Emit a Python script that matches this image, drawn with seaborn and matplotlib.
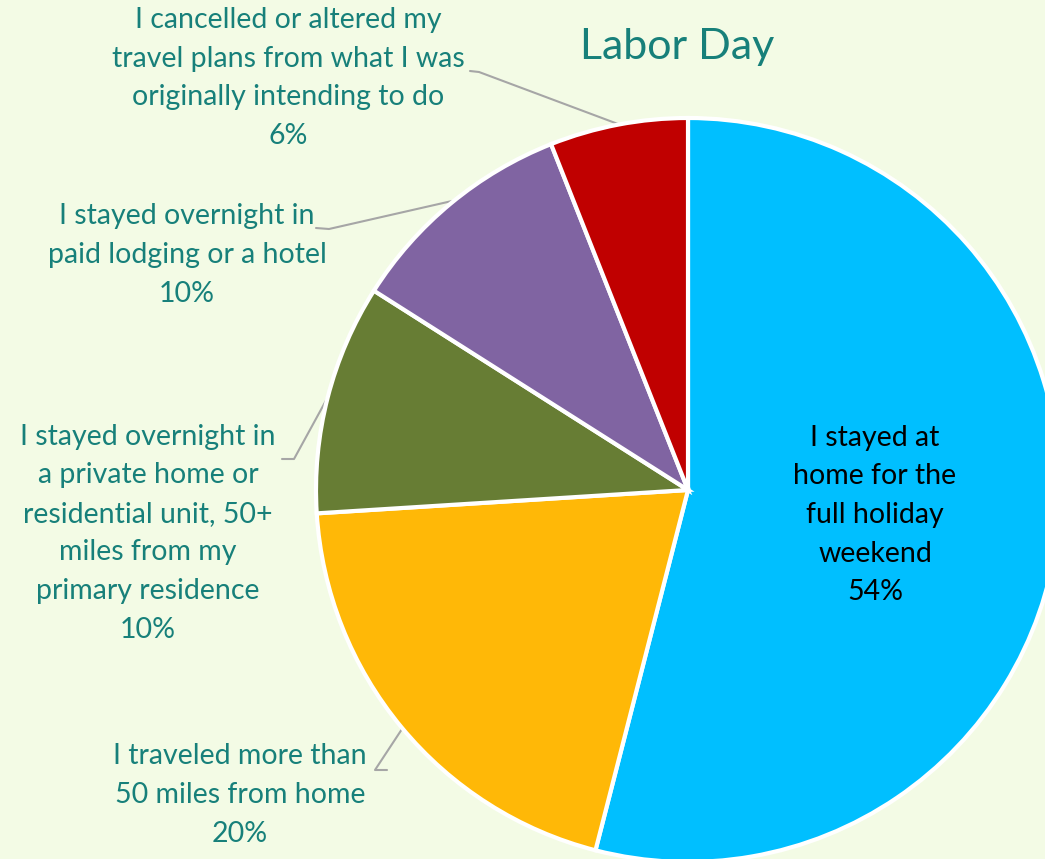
import matplotlib
matplotlib.use("Agg")
import matplotlib.pyplot as plt
import seaborn as sns

categories = [
    "I stayed at\nhome for the\nfull holiday\nweekend",
    "I traveled more than\n50 miles from home",
    "I stayed overnight in\na private home or\nresidential unit, 50+\nmiles from my\nprimary residence",
    "I stayed overnight in\npaid lodging or a hotel",
    "I cancelled or altered my\ntravel plans from what I was\noriginally intending to do",
]
values = [54, 20, 10, 10, 6]
colors = ["#00BFFF", "#FFB807", "#677D34", "#8064A2", "#C00000"]
title = "Labor Day"

sns.set_theme(style="white")
plt.rcParams["font.family"] = ["Lato", "DejaVu Sans"]

BG = "#F3FBE5"
TEAL = "#17807A"

W, H = 1045, 859
fig = plt.figure(figsize=(W / 100, H / 100), dpi=100, facecolor=BG)
ax = fig.add_axes([0, 0, 1, 1])
ax.set_facecolor(BG)

cx, cy, r = 688, H - 490, 372
ax.pie(values, colors=colors, startangle=90, counterclock=False,
       center=(cx, cy), radius=r, frame=True,
       wedgeprops=dict(edgecolor="white", linewidth=3))
ax.set_xlim(0, W)
ax.set_ylim(0, H)
ax.set_aspect("equal")
ax.axis("off")

fs = 20.5
ls = 1.6
# label layout (pixel coords from top)
label_pos = [
    (875, 515, "black"),
    (240, 795, TEAL),
    (148, 533, TEAL),
    (187, 255, TEAL),
    (288, 78, TEAL),
]
for cat, v, (x, y, c) in zip(categories, values, label_pos):
    ax.text(x, H - y, f"{cat}\n{v}%", ha="center", va="center",
            fontsize=fs, color=c, linespacing=ls)

leaders = [
    [(387, 770), (375, 770), (402, 729)],
    [(282, 459), (294, 459), (329, 395)],
    [(316, 228), (329, 229), (452, 201)],
    [(470, 71), (479, 72), (618, 124)],
]
for pts in leaders:
    xs = [p[0] for p in pts]
    ys = [H - p[1] for p in pts]
    ax.plot(xs, ys, color="#A6A6A6", lw=1.5, zorder=0.5)

ax.text(677, H - 47, title, ha="center", va="center", fontsize=31, color=TEAL)

fig.savefig("out.png", dpi=100, facecolor=BG)
